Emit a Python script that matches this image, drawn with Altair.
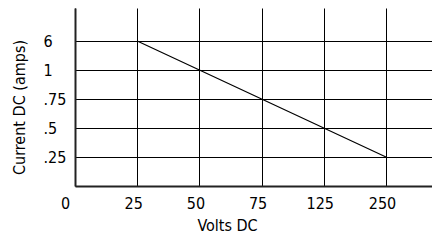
import json
import altair as alt
import pandas as pd

# Data
volts = [25, 50, 75, 125, 250]
amps = [6, 1, 0.75, 0.5, 0.25]

# Tick values (equally spaced, categorical-like) and their labels
x_ticks = [0, 25, 50, 75, 125, 250]
x_tick_labels = ["0", "25", "50", "75", "125", "250"]
y_ticks = [0, 0.25, 0.5, 0.75, 1, 6]
y_tick_labels = ["0", ".25", ".5", ".75", "1", "6"]

df = pd.DataFrame({"volts": volts, "amps": amps})

FONT = "DejaVu Sans Condensed, Liberation Sans Narrow, Roboto, sans-serif"
FS = 16

x_axis = alt.Axis(
    values=list(range(len(x_ticks))),
    labelExpr=f"{json.dumps(x_tick_labels)}[datum.value]",
    title="Volts DC",
    grid=True,
    gridColor="black",
    gridWidth=1,
    gridOpacity=1,
    ticks=False,
    tickSize=0,
    labelPadding=9,
    labelOffset={"condition": {"test": "datum.value == 0", "value": -10}, "value": -4},
    labelFont=FONT,
    labelFontSize=FS,
    labelColor="black",
    labelFlush=False,
    domainColor="#222",
    domainWidth=2,
    titleFont=FONT,
    titleFontSize=FS,
    titleFontWeight="normal",
    titleColor="black",
    titleX=152,
    titleY=31,
    titleBaseline="top",
)

y_axis = alt.Axis(
    values=list(range(1, len(y_ticks))),
    labelExpr=f"{json.dumps(y_tick_labels)}[datum.value]",
    title="Current DC (amps)",
    grid=True,
    gridColor="black",
    gridWidth=1,
    gridOpacity=1,
    ticks=False,
    tickSize=0,
    labelAlign="left",
    labelBaseline="middle",
    labelPadding=32,
    labelFont=FONT,
    labelFontSize=FS,
    labelColor="black",
    labelFlush=False,
    domainColor="#222",
    domainWidth=2,
    titleFont=FONT,
    titleFontSize=FS,
    titleFontWeight="normal",
    titleColor="black",
    titleAngle=-90,
    titleBaseline="bottom",
    titleX=-48,
    titleY=99,
)

chart = (
    alt.Chart(df)
    .transform_calculate(
        xi=f"indexof({json.dumps(x_ticks)}, datum.volts)",
        yi=f"indexof({json.dumps(y_ticks)}, datum.amps)",
    )
    .mark_line(color="black", strokeWidth=1.2)
    .encode(
        x=alt.X("xi:Q", scale=alt.Scale(domain=[0, 5.74], nice=False, zero=False), axis=x_axis),
        y=alt.Y("yi:Q", scale=alt.Scale(domain=[0, 6.14], nice=False, zero=False), axis=y_axis),
    )
    .properties(
        width=357,
        height=178,
        autosize=alt.AutoSizeParams(type="none"),
        padding={"left": 67, "top": 0, "right": 0, "bottom": 48},
    )
    .configure_view(stroke=None)
)

chart.save("out.html", embed_options={"renderer": "svg", "actions": False})
